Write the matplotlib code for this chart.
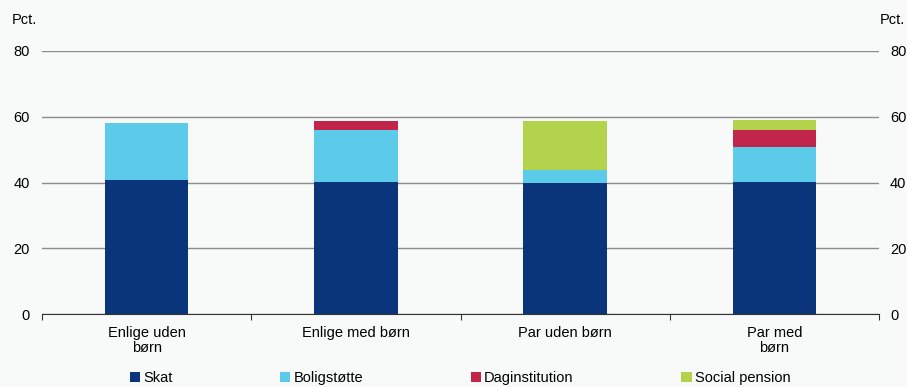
import numpy as np
import matplotlib
matplotlib.use("Agg")
import matplotlib.pyplot as plt

plt.rcParams['font.family'] = ['Liberation Sans', 'DejaVu Sans']

# data
categories = ['Enlige uden\nbørn', 'Enlige med børn', 'Par uden børn', 'Par med\nbørn']
skat = [40.8, 40.3, 39.8, 40.3]
boligstotte = [17.4, 15.8, 4.0, 10.4]
daginstitution = [0.0, 2.5, 0.0, 5.4]
social_pension = [0.0, 0.0, 14.8, 2.8]
series_names = ['Skat', 'Boligstøtte', 'Daginstitution', 'Social pension']
colors = ['#0a357a', '#5ccbea', '#c1264a', '#b2d34b']
yticks = [0, 20, 40, 60, 80]

bg = '#f8fafa'
fig = plt.figure(figsize=(9.07, 3.87), dpi=100, facecolor=bg)
ax = fig.add_axes([42 / 907, 1 - 314 / 387, (879 - 42) / 907, (314 - 51) / 387])
ax.set_facecolor(bg)

x = np.arange(len(categories))
bottom = np.zeros(len(categories))
for name, vals, col in zip(series_names, [skat, boligstotte, daginstitution, social_pension], colors):
    ax.bar(x, vals, width=0.4, bottom=bottom, color=col, label=name, zorder=3)
    bottom += np.array(vals)

ax.set_xlim(-0.5, len(categories) - 0.5)
ax.set_ylim(0, 80)
ax.set_yticks(yticks)
ax.yaxis.grid(True, color='#8c8c8c', linewidth=1.0, zorder=0)
ax.tick_params(axis='y', length=0, labelsize=10.5, pad=9)
for s in ['top', 'left', 'right']:
    ax.spines[s].set_visible(False)
ax.spines['bottom'].set_color('#333333')
ax.spines['bottom'].set_zorder(4)

# category ticks at boundaries, labels at centres
ax.set_xticks(np.arange(len(categories) + 1) - 0.5)
ax.set_xticklabels([])
ax.tick_params(axis='x', length=4, color='#333333', direction='out')
for xi, lab in zip(x, categories):
    ax.text(xi, -3.5, lab, ha='center', va='top', fontsize=10.5, linespacing=1.1,
            transform=ax.transData)

ax2 = ax.twinx()
ax2.set_ylim(0, 80)
ax2.set_yticks(yticks)
ax2.tick_params(axis='y', length=0, labelsize=10.5, pad=8)
for s in ['top', 'left', 'right', 'bottom']:
    ax2.spines[s].set_visible(False)

fig.text(12 / 907, 1 - 20 / 387, 'Pct.', fontsize=10.5, va='center', ha='left')
fig.text(880 / 907, 1 - 20 / 387, 'Pct.', fontsize=10.5, va='center', ha='left')

fig.legend(loc='center', bbox_to_anchor=(460 / 907, 1 - 378 / 387), ncol=4, frameon=False,
           fontsize=10.5, handlelength=0.7, handleheight=0.7, handletextpad=0.2,
           columnspacing=7.4, borderaxespad=0)

fig.savefig('out.png', dpi=100, facecolor=bg)
